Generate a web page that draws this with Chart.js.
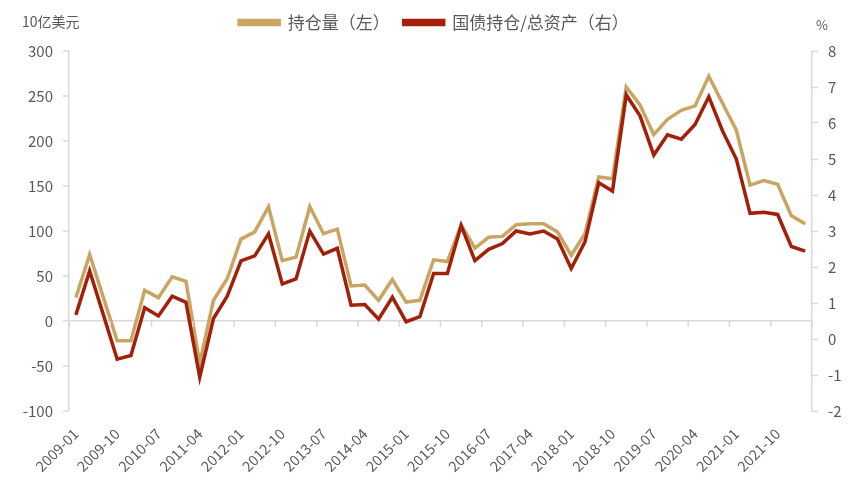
<!DOCTYPE html>
<html>
<head>
<meta charset="utf-8">
<script src="https://cdn.jsdelivr.net/npm/chart.js@4.4.1/dist/chart.umd.min.js"></script>
<style>
  html, body { margin: 0; padding: 0; background: #ffffff; }
  #wrap { width: 868px; height: 497px; position: relative; }
</style>
</head>
<body>
<div id="wrap"><canvas id="c" width="868" height="497"></canvas></div>
<script>
const categories = [
  "2009-01","2009-04","2009-07","2009-10","2010-01","2010-04","2010-07","2010-10",
  "2011-01","2011-04","2011-07","2011-10","2012-01","2012-04","2012-07","2012-10",
  "2013-01","2013-04","2013-07","2013-10","2014-01","2014-04","2014-07","2014-10",
  "2015-01","2015-04","2015-07","2015-10","2016-01","2016-04","2016-07","2016-10",
  "2017-01","2017-04","2017-07","2017-10","2018-01","2018-04","2018-07","2018-10",
  "2019-01","2019-04","2019-07","2019-10","2020-01","2020-04","2020-07","2020-10",
  "2021-01","2021-04","2021-07","2021-10","2022-01","2022-04"
];
const holdings = [
  26, 74, 26, -22, -22, 34, 26, 49,
  44, -47, 23, 47, 91, 99, 127, 67,
  71, 127, 97, 102, 39, 40, 23, 46,
  21, 23, 68, 66, 107, 81, 93, 94,
  107, 108, 108, 99, 73, 97, 160, 158,
  260, 240, 207, 224, 234, 239, 272, 242,
  212, 151, 156, 152, 117, 108
];
const ratio = [
  0.67, 1.89, 0.67, -0.56, -0.46, 0.87, 0.64, 1.19,
  1.02, -1.06, 0.57, 1.19, 2.17, 2.31, 2.92, 1.53,
  1.67, 3.00, 2.36, 2.52, 0.94, 0.96, 0.55, 1.16,
  0.48, 0.62, 1.82, 1.82, 3.15, 2.18, 2.49, 2.65,
  3.00, 2.92, 3.00, 2.78, 1.96, 2.70, 4.34, 4.11,
  6.78, 6.20, 5.11, 5.67, 5.55, 5.96, 6.73, 5.78,
  5.00, 3.49, 3.52, 3.46, 2.57, 2.44
];
const seriesNames = ["持仓量（左）", "国债持仓/总资产（右）"];
const leftUnit = "10亿美元";
const rightUnit = "%";

const GOLD = "#C9A563";
const RED = "#A2200A";
const AXIS = "#D9D9D9";
const TXT = "#595959";
const FONT = "'Noto Sans CJK SC', 'Noto Sans', sans-serif";

const extras = {
  id: 'extras',
  afterInit(chart) {
    const lg = chart.legend;
    if (lg) {
      const orig = lg.fit;
      lg.fit = function () { orig.call(this); this.height += 10; };
    }
  },
  afterDraw(chart) {
    const ctx = chart.ctx;
    const x = chart.scales.x, y = chart.scales.y;
    const y0 = y.getPixelForValue(0);
    const n = categories.length;
    const half = (x.getPixelForValue(1) - x.getPixelForValue(0)) / 2;
    ctx.save();
    ctx.strokeStyle = AXIS;
    ctx.lineWidth = 1.5;
    for (let i = 0; i <= n; i += 3) {
      const px = i < n ? x.getPixelForValue(i) - half : x.getPixelForValue(n - 1) + half;
      ctx.beginPath();
      ctx.moveTo(px, y0);
      ctx.lineTo(px, y0 + 6);
      ctx.stroke();
    }
    ctx.fillStyle = TXT;
    ctx.font = "14px " + FONT;
    ctx.textBaseline = 'middle';
    ctx.textAlign = 'left';
    ctx.fillText(leftUnit, chart.chartArea.left - 47, chart.chartArea.top - 29);
    ctx.font = "13px " + FONT;
    ctx.fillText(rightUnit, chart.chartArea.right + 4, chart.chartArea.top - 26);
    ctx.restore();
  }
};

new Chart(document.getElementById('c'), {
  type: 'line',
  data: {
    labels: categories,
    datasets: [
      { label: seriesNames[0], data: holdings, yAxisID: 'y', borderColor: GOLD, backgroundColor: GOLD,
        borderWidth: 3.5, pointRadius: 0, tension: 0, order: 2 },
      { label: seriesNames[1], data: ratio, yAxisID: 'y1', borderColor: RED, backgroundColor: RED,
        borderWidth: 3.5, pointRadius: 0, tension: 0, order: 1 }
    ]
  },
  options: {
    responsive: false,
    animation: false,
    layout: { padding: { top: 0, left: 0, right: 0, bottom: 0 } },
    plugins: {
      legend: {
        position: 'top',
        labels: {
          color: TXT,
          font: { size: 17, family: FONT },
          boxWidth: 40,
          boxHeight: 4,
          padding: 14,
          sort: (a, b) => a.datasetIndex - b.datasetIndex
        }
      },
      tooltip: { enabled: false }
    },
    scales: {
      x: {
        type: 'category',
        offset: true,
        grid: { display: false, drawTicks: false },
        border: { display: false },
        ticks: {
          autoSkip: false,
          maxRotation: 45,
          minRotation: 45,
          padding: 14,
          color: TXT,
          font: { size: 14.5, family: FONT },
          callback: function (v, i) { return i % 3 === 0 ? categories[i] : ''; }
        },
        afterFit: function (s) { s.height = 86; }
      },
      y: {
        position: 'left',
        min: -100,
        max: 300,
        grid: {
          drawOnChartArea: true,
          color: (c) => (c.tick && c.tick.value === 0) ? AXIS : 'rgba(0,0,0,0)',
          lineWidth: (c) => (c.tick && c.tick.value === 0) ? 1.5 : 0,
          tickColor: AXIS,
          tickLength: 6,
          tickWidth: 1.5
        },
        border: { display: true, color: AXIS, width: 1.5 },
        ticks: {
          stepSize: 50,
          padding: 10,
          color: TXT,
          font: { size: 15, family: FONT }
        },
        afterFit: function (s) { s.width = 69; }
      },
      y1: {
        position: 'right',
        min: -2,
        max: 8,
        grid: { drawOnChartArea: false, tickColor: AXIS, tickLength: 6, tickWidth: 1.5 },
        border: { display: true, color: AXIS, width: 1.5 },
        ticks: {
          stepSize: 1,
          padding: 10,
          color: TXT,
          font: { size: 15, family: FONT }
        },
        afterFit: function (s) { s.width = 56; }
      }
    }
  },
  plugins: [extras]
});
</script>
</body>
</html>
